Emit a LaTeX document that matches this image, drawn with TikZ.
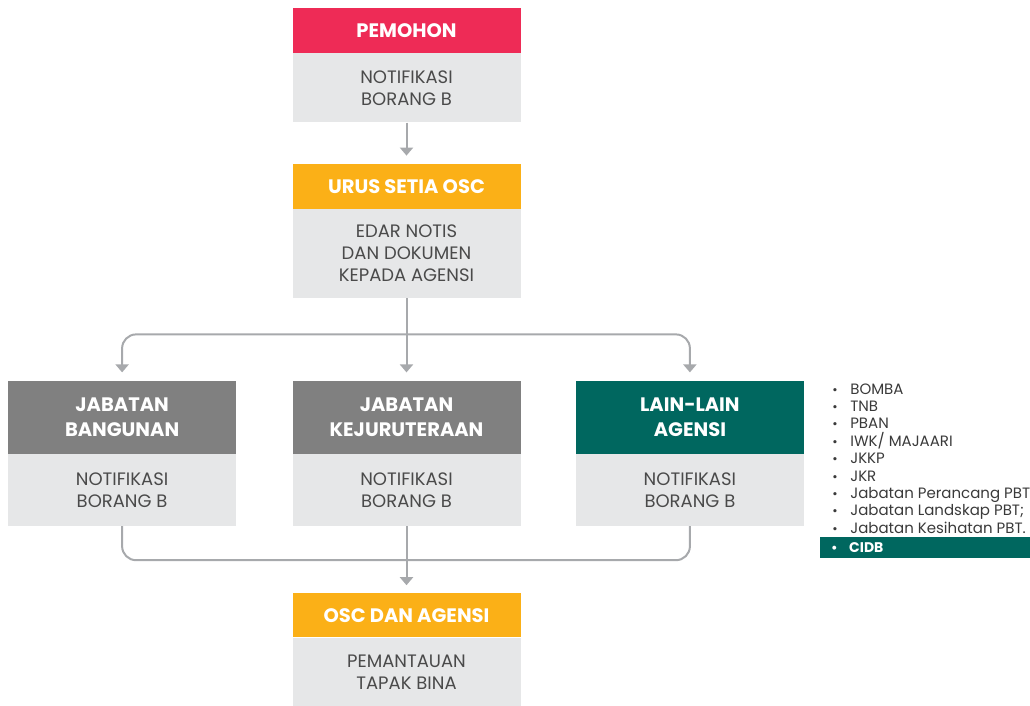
\documentclass[tikz,border=0pt]{standalone}
\usepackage{fontspec}
\setmainfont{Poppins}
\usetikzlibrary{positioning}
\usetikzlibrary{arrows.meta}
\definecolor{pemohonred}{HTML}{EE2B56}
\definecolor{oscorange}{HTML}{FBB017}
\definecolor{jabgray}{HTML}{808080}
\definecolor{agensigreen}{HTML}{00675F}
\definecolor{bodygray}{HTML}{E6E7E8}
\definecolor{bodytext}{HTML}{4A4A4A}
\definecolor{listtext}{HTML}{3A3A3A}
\definecolor{linegray}{HTML}{A7A9AC}
\newcommand{\agensiitem}[1]{\makebox[18pt][l]{\fontsize{13}{13}\selectfont\textbullet}#1}

\begin{document}
\begin{tikzpicture}[
x=1pt, y=1pt,
headnode/.style={rectangle, fill=#1, text=white, font=\bfseries\fontsize{19.5}{25}\selectfont, minimum width=228pt, minimum height=45pt, align=center, inner sep=0pt},
bodynode/.style={rectangle, fill=bodygray, text=bodytext, font=\fontsize{18}{22}\selectfont, minimum width=228pt, align=center, inner sep=0pt},
listnode/.style={rectangle, text=listtext, font=\fontsize{15}{17.4}\selectfont, align=left, inner sep=0pt},
flowline/.style={linegray, line width=2pt, -{Triangle[width=13pt,length=8pt]}, shorten >=8pt},
]
\useasboundingbox (0,0) rectangle (1030,-705);

%Nodes
\node[headnode=pemohonred]						(pemohon)		at (406.5,-30.5)			{PEMOHON};
\node[bodynode, minimum height=69pt]			(pemohonbody)	[below=0pt of pemohon]		{NOTIFIKASI\\BORANG B};
\node[headnode=oscorange]						(urus)			[below=41pt of pemohonbody]	{URUS SETIA OSC};
\node[bodynode, minimum height=89pt]			(urusbody)		[below=0pt of urus]			{EDAR NOTIS\\DAN DOKUMEN\\KEPADA AGENSI};
\node[headnode=jabgray, minimum height=73pt]	(kej)			[below=82pt of urusbody]	{JABATAN\\KEJURUTERAAN};
\node[bodynode, minimum height=72pt]			(kejbody)		[below=0pt of kej]			{NOTIFIKASI\\BORANG B};
\node[headnode=jabgray, minimum height=73pt]	(bangunan)		[left=56pt of kej]			{JABATAN\\BANGUNAN};
\node[bodynode, minimum height=72pt]			(bangunanbody)	[below=0pt of bangunan]		{NOTIFIKASI\\BORANG B};
\node[headnode=agensigreen, minimum height=73pt]	(lain)		[right=55pt of kej]			{LAIN-LAIN\\AGENSI};
\node[bodynode, minimum height=72pt]			(lainbody)		[below=0pt of lain]			{NOTIFIKASI\\BORANG B};
\node[headnode=oscorange, minimum height=44pt]	(oscagensi)		[below=67pt of kejbody]		{OSC DAN AGENSI};
\node[bodynode, minimum height=69pt]			(oscbody)		[below=0pt of oscagensi]	{PEMANTAUAN\\TAPAK BINA};

%Agency list
\node[listnode, anchor=north west]	(agensilist)	at ([xshift=28pt,yshift=-3pt]lain.north east)
	{\agensiitem{BOMBA}\\\agensiitem{TNB}\\\agensiitem{PBAN}\\\agensiitem{IWK/ MAJAARI}\\\agensiitem{JKKP}\\\agensiitem{JKR}\\\agensiitem{Jabatan Perancang PBT;}\\\agensiitem{Jabatan Landskap PBT;}\\\agensiitem{Jabatan Kesihatan PBT.}};
\node[listnode, fill=agensigreen, text=white, font=\bfseries\fontsize{14}{17}\selectfont, anchor=north west, text width=210pt, minimum height=21pt]	(cidb)	at (820,-537)
	{\hspace*{11pt}\agensiitem{CIDB}};

%Lines
\coordinate (topbus) at ([yshift=-36pt]urusbody.south);
\coordinate (bottombus) at ([yshift=-34pt]kejbody.south);
\draw[flowline] (pemohonbody) -- (urus);
\draw[flowline] (urusbody) -- (kej);
\draw[flowline, rounded corners=14pt] (topbus) -| (bangunan);
\draw[flowline, rounded corners=14pt] (topbus) -| (lain);
\draw[linegray, line width=2pt, rounded corners=14pt] (bangunanbody) |- (bottombus) -| (lainbody);
\draw[flowline] (kejbody) -- (oscagensi);
\end{tikzpicture}
\end{document}
